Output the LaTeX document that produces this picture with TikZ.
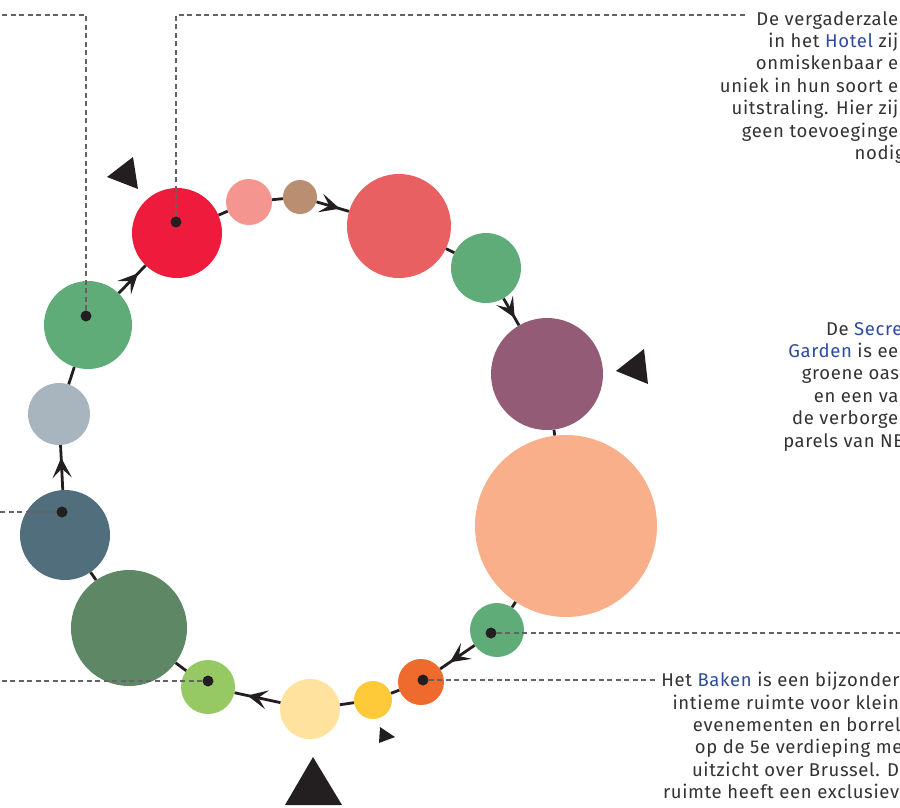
\documentclass[tikz,border=0pt]{standalone}
\usepackage{fontspec}
\setmainfont{Fira Sans}
\newfontfamily\notefont{Fira Sans}[LetterSpace=3.5]
\usetikzlibrary{arrows.meta,decorations.markings}

\definecolor{ink}{HTML}{231F20}
\definecolor{txt}{HTML}{333333}
\definecolor{link}{HTML}{2E4B9B}
\definecolor{hotelred}{HTML}{EE1B3C}
\definecolor{rose}{HTML}{F4968F}
\definecolor{taupe}{HTML}{B98E71}
\definecolor{coral}{HTML}{E86062}
\definecolor{fern}{HTML}{5FAC78}
\definecolor{plum}{HTML}{945B76}
\definecolor{peach}{HTML}{F8AF8A}
\definecolor{tangerine}{HTML}{EE6B2D}
\definecolor{sun}{HTML}{FECA3A}
\definecolor{cream}{HTML}{FEE29D}
\definecolor{lime}{HTML}{96C864}
\definecolor{moss}{HTML}{5E8766}
\definecolor{slate}{HTML}{506E7B}
\definecolor{mist}{HTML}{A8B5BE}

\begin{document}
\begin{tikzpicture}
  [x=1pt,y=-1pt,
   ball/.style={circle,inner sep=0pt,minimum size=#1},
   ring/.style={line width=2.8pt,draw=ink},
   flow/.style={ring,postaction={decorate},decoration={markings,
     mark=at position 0.72 with {\arrow{Stealth[length=20pt,width=19pt,inset=9pt]}}}},
   lead/.style={draw=ink!70,line width=1.2pt,dash pattern=on 5pt off 3.5pt},
   dot/.style={circle,fill=ink,inner sep=0pt,minimum size=11pt},
   note/.style={align=right,text=txt,inner sep=0pt,anchor=north east,
     font=\notefont\fontsize{18.5}{22.4}\selectfont}]
  \useasboundingbox (0,0) rectangle (900,807);

  % the ring of rooms
  \foreach \n/\x/\y/\r/\c in {c1/177/233/90/hotelred, c2/249/202/46/rose,
      c3/300/197/34/taupe, c4/399/226/104/coral, c5/486/268/70/fern,
      c6/547/374/112/plum, c7/566/526/182/peach, c8/497/630/54/fern,
      c9/421/682/46/tangerine, c10/373/700/38/sun, c11/310/709/60/cream,
      c12/208/687/54/lime, c13/129/628/116/moss, c14/65/535/90/slate,
      c15/59/414/62/mist, c16/88/325/88/fern} {
    \node[ball=\r,fill=\c] (\n) at (\x,\y) {};
  }
  \foreach \a/\b in {c1/c2,c2/c3,c4/c5,c6/c7,c7/c8,c9/c10,c10/c11,
      c12/c13,c13/c14,c15/c16} {
    \draw[ring] (\a) -- (\b);
  }
  \foreach \a/\b in {c3/c4,c5/c6,c8/c9,c11/c12,c14/c15,c16/c1} {
    \draw[flow] (\a) -- (\b);
  }

  % markers
  \fill[ink] (107,177) -- (133,157) -- (138,189) -- cycle;
  \fill[ink] (616,371) -- (644,349) -- (648,384) -- cycle;
  \fill[ink] (313,757) -- (285,805) -- (342,805) -- cycle;
  \fill[ink] (380,727) -- (395,737) -- (379,743) -- cycle;

  % dots and leaders
  \node[dot] (hdot) at (176,222) {};
  \node[dot] (gdot) at (86,316) {};
  \node[dot] (sdot) at (62,512) {};
  \node[dot] (ldot) at (208,681) {};
  \node[dot] (odot) at (423,680) {};
  \node[dot] (fdot) at (491,633) {};
  \coordinate (hend) at (748,15);
  \coordinate (gend) at (0,15);
  \coordinate (send) at (0,512);
  \coordinate (lend) at (0,681);
  \coordinate (oend) at (655,680);
  \coordinate (fend) at (900,633);
  \draw[lead] (hdot) |- (hend);
  \draw[lead] (gdot) |- (gend);
  \draw[lead] (sdot) -- (send);
  \draw[lead] (ldot) -- (lend);
  \draw[lead] (odot) -- (oend);
  \draw[lead] (fdot) -- (fend);

  % texts
  \node[note] (hotel) at (910,11) {De vergaderzalen\\
    in het \textcolor{link}{Hotel} zijn\\onmiskenbaar en\\
    uniek in hun soort en\\uitstraling. Hier zijn\\
    geen toevoegingen\\nodig.};
  \node[note] (garden) at (910,322) {De \textcolor{link}{Secret}\\
    \textcolor{link}{Garden} is een\\groene oase\\en een van\\
    de verborgen\\parels van NB.};
  \node[note] (baken) at (910,672) {Het \textcolor{link}{Baken} is een bijzondere\\
    intieme ruimte voor kleine\\evenementen en borrels\\
    op de 5e verdieping met\\uitzicht over Brussel. De\\
    ruimte heeft een exclusieve};
\end{tikzpicture}
\end{document}
